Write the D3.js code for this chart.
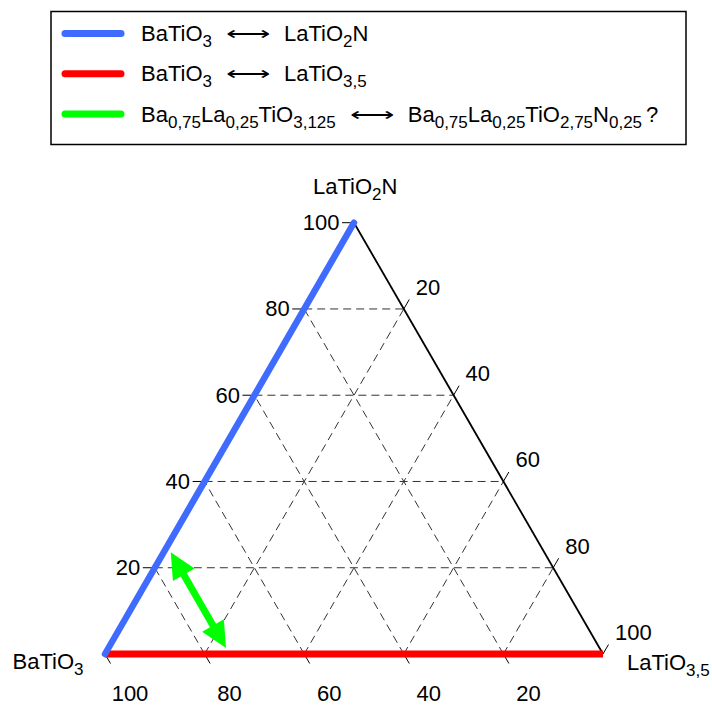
<!DOCTYPE html>
<html>
<head>
<meta charset="utf-8">
<script src="https://cdn.jsdelivr.net/npm/d3@7"></script>
<style>
  html, body { margin: 0; padding: 0; background: #fff; }
  svg { display: block; }
  text { font-family: "Liberation Sans", Arial, Helvetica, sans-serif; fill: #000; }
</style>
</head>
<body>
<svg id="chart" width="712" height="706"></svg>
<script>
// ---------- data ----------
// ternary components: a = BaTiO3, b = LaTiO3,5, c = LaTiO2N  (percent)
const vertexNames = [
  { key: "a", parts: [["BaTiO", 0], ["3", 1]] },
  { key: "b", parts: [["LaTiO", 0], ["3,5", 1]] },
  { key: "c", parts: [["LaTiO", 0], ["2", 1], ["N", 0]] }
];
const tickValues = [20, 40, 60, 80, 100];
const gridValues = [20, 40, 60, 80];
const bottomTickLabels = ["100", "80", "60", "40", "20"]; // BaTiO3 axis (a)
const rightTickLabels = ["20", "40", "60", "80", "100"];  // LaTiO3,5 axis (b)
const leftTickLabels = ["20", "40", "60", "80", "100"];   // LaTiO2N axis (c)

// series: tie lines between compositions
const seriesColors = ["#3f6cff", "#ff0000", "#00ff00"];
const blueLine = [{ a: 100, b: 0, c: 0 }, { a: 0, b: 0, c: 100 }];
const redLine = [{ a: 100, b: 0, c: 0 }, { a: 0, b: 100, c: 0 }];
const greenArrow = [{ a: 75, b: 0, c: 25 }, { a: 75, b: 25, c: 0 }];

const legendLeft = [
  [["BaTiO", 0], ["3", 1]],
  [["BaTiO", 0], ["3", 1]],
  [["Ba", 0], ["0,75", 1], ["La", 0], ["0,25", 1], ["TiO", 0], ["3,125", 1]]
];
const legendRight = [
  [["LaTiO", 0], ["2", 1], ["N", 0]],
  [["LaTiO", 0], ["3,5", 1]],
  [["Ba", 0], ["0,75", 1], ["La", 0], ["0,25", 1], ["TiO", 0], ["2,75", 1], ["N", 0], ["0,25", 1], ["?", 0]]
];
const legendArrow = "\u27F7";

// ---------- scales ----------
const S3 = Math.sqrt(3) / 2;
const xScale = d3.scaleLinear().domain([0, 100]).range([105, 603]);
const yScale = d3.scaleLinear().domain([0, 100 * S3]).range([654, 222.7]);
function proj(p) {
  const t = p.a + p.b + p.c;
  const b = p.b / t * 100, c = p.c / t * 100;
  return [xScale(b + c / 2), yScale(c * S3)];
}

const svg = d3.select("#chart");
const FS = 22, SUB = 17, SHIFT = 6;

function richText(sel, parts) {
  sel.attr("font-size", FS);
  let down = false;
  parts.forEach(([txt, kind]) => {
    const ts = sel.append("tspan");
    if (kind === 1) {
      ts.attr("font-size", SUB).attr("dy", down ? 0 : SHIFT);
      down = true;
    } else {
      ts.attr("font-size", FS).attr("dy", down ? -SHIFT : 0);
      if (txt === "?") ts.attr("dx", 4);
      down = false;
    }
    ts.text(txt);
  });
}

// ---------- legend ----------
const legend = svg.append("g");
legend.append("rect").attr("x", 51).attr("y", 11.5).attr("width", 635).attr("height", 133)
  .attr("fill", "none").attr("stroke", "#000").attr("stroke-width", 1.5);
const legendY = d3.scaleLinear().domain([0, 2]).range([33.5, 114]);
legendLeft.forEach((parts, i) => {
  const y = legendY(i);
  legend.append("line").attr("x1", 65).attr("x2", 121).attr("y1", y).attr("y2", y)
    .attr("stroke", seriesColors[i]).attr("stroke-width", 7).attr("stroke-linecap", "round");
  const t1 = legend.append("text").attr("x", 141).attr("y", y + 7.5);
  richText(t1, parts);
  const w1 = t1.node().getComputedTextLength();
  const ax = 141 + w1 + 14;
  legend.append("text").attr("x", ax).attr("y", y + 6.5)
    .attr("font-family", "DejaVu Sans").attr("font-size", 20)
    .attr("textLength", 45).attr("lengthAdjust", "spacingAndGlyphs")
    .text(legendArrow);
  const t2 = legend.append("text").attr("x", ax + 45 + 13).attr("y", y + 7.5);
  richText(t2, legendRight[i]);
});

// ---------- grid ----------
const grid = svg.append("g").attr("stroke", "#333").attr("stroke-width", 1)
  .attr("stroke-dasharray", "8,5").attr("fill", "none");
gridValues.forEach(v => {
  const lines = [
    [{ a: 100 - v, b: 0, c: v }, { a: 0, b: 100 - v, c: v }],
    [{ a: 100 - v, b: v, c: 0 }, { a: 0, b: v, c: 100 - v }],
    [{ a: v, b: 100 - v, c: 0 }, { a: v, b: 0, c: 100 - v }]
  ];
  lines.forEach(l => {
    const p0 = proj(l[0]), p1 = proj(l[1]);
    grid.append("line").attr("x1", p0[0]).attr("y1", p0[1]).attr("x2", p1[0]).attr("y2", p1[1]);
  });
});

// ---------- ticks ----------
const ticks = svg.append("g").attr("stroke", "#000").attr("stroke-width", 1);
tickValues.forEach((v, i) => {
  // left axis: LaTiO2N
  let p = proj({ a: 100 - v, b: 0, c: v });
  ticks.append("line").attr("x1", p[0] - 12).attr("y1", p[1]).attr("x2", p[0]).attr("y2", p[1]);
  svg.append("text").attr("x", p[0] - 14.5).attr("y", p[1] + 7.5).attr("text-anchor", "end")
    .attr("font-size", FS).text(leftTickLabels[i]);
  // right axis: LaTiO3,5
  p = proj({ a: 0, b: v, c: 100 - v });
  ticks.append("line").attr("x1", p[0]).attr("y1", p[1]).attr("x2", p[0] + 5.5).attr("y2", p[1] - 9.5);
  svg.append("text").attr("x", p[0] + 12).attr("y", p[1] - 14)
    .attr("font-size", FS).text(rightTickLabels[i]);
});
bottomTickLabels.forEach(lbl => {
  const aVal = +lbl;
  const p = proj({ a: aVal, b: 100 - aVal, c: 0 });
  ticks.append("line").attr("x1", p[0]).attr("y1", p[1]).attr("x2", p[0] + 5.5).attr("y2", p[1] + 9.5);
  svg.append("text").attr("x", p[0] + 25).attr("y", 701).attr("text-anchor", "middle")
    .attr("font-size", FS).text(lbl);
});

// ---------- edges ----------
const pB = proj({ a: 0, b: 100, c: 0 }), pC = proj({ a: 0, b: 0, c: 100 });
svg.append("line").attr("x1", pC[0]).attr("y1", pC[1]).attr("x2", pB[0]).attr("y2", pB[1])
  .attr("stroke", "#000").attr("stroke-width", 1.8);
const lineGen = d3.line().x(d => proj(d)[0]).y(d => proj(d)[1]);
svg.append("path").attr("d", lineGen(redLine)).attr("stroke", seriesColors[1])
  .attr("stroke-width", 7).attr("fill", "none");
svg.append("path").attr("d", lineGen(blueLine)).attr("stroke", seriesColors[0])
  .attr("stroke-width", 6.5).attr("stroke-linecap", "round").attr("fill", "none");

// ---------- green double arrow ----------
(function () {
  const p0 = proj(greenArrow[0]), p1 = proj(greenArrow[1]);
  const dx = p1[0] - p0[0], dy = p1[1] - p0[1], L = Math.hypot(dx, dy);
  const ux = dx / L, uy = dy / L, nx = -uy, ny = ux;
  const inset = 7, headL = 26, headW = 12.5;
  const t0 = [p0[0] + ux * inset, p0[1] + uy * inset];
  const t1 = [p1[0] - ux * inset, p1[1] - uy * inset];
  const b0 = [t0[0] + ux * headL, t0[1] + uy * headL];
  const b1 = [t1[0] - ux * headL, t1[1] - uy * headL];
  const g = svg.append("g").attr("fill", seriesColors[2]);
  g.append("line").attr("x1", b0[0] - ux * 2).attr("y1", b0[1] - uy * 2)
    .attr("x2", b1[0] + ux * 2).attr("y2", b1[1] + uy * 2)
    .attr("stroke", seriesColors[2]).attr("stroke-width", 7);
  const head = (t, b) => [t, [b[0] + nx * headW, b[1] + ny * headW], [b[0] - nx * headW, b[1] - ny * headW]]
    .map(q => q.join(",")).join(" ");
  g.append("polygon").attr("points", head(t0, b0));
  g.append("polygon").attr("points", head(t1, b1));
})();

// ---------- vertex labels ----------
const vPos = { a: [12.5, 669], b: [627, 670], c: [313, 194] };
vertexNames.forEach(v => {
  const t = svg.append("text").attr("x", vPos[v.key][0]).attr("y", vPos[v.key][1]);
  richText(t, v.parts);
});
</script>
</body>
</html>
